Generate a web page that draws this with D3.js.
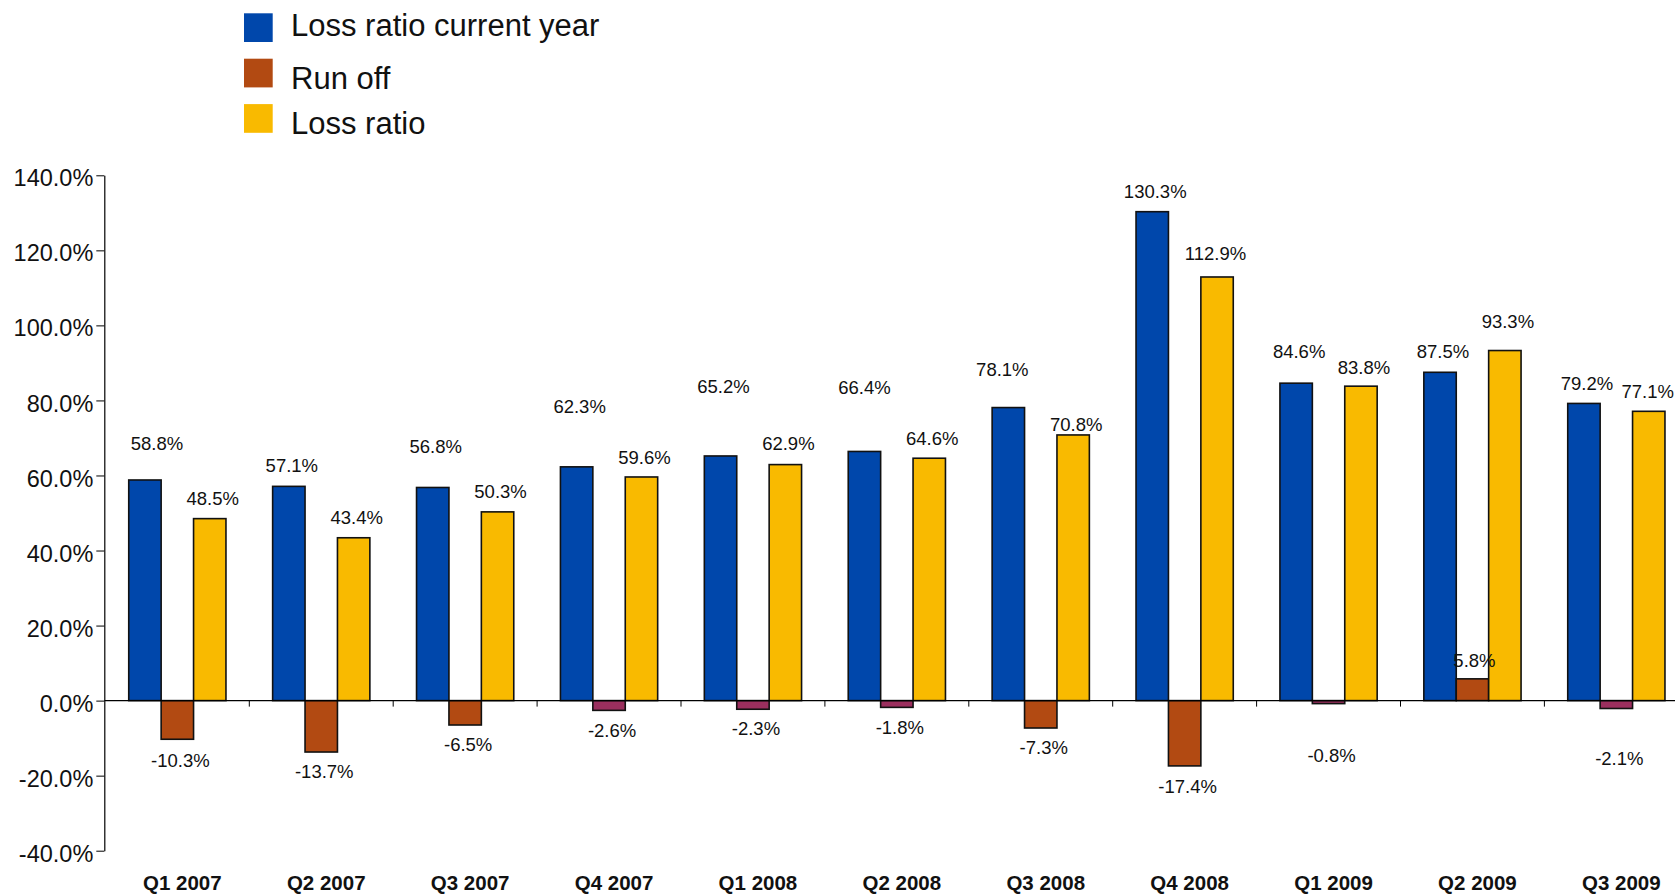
<!DOCTYPE html>
<html>
<head>
<meta charset="utf-8">
<script src="https://cdn.jsdelivr.net/npm/d3@7"></script>
<style>
  html, body { margin: 0; padding: 0; background: #fff; }
  svg { display: block; font-family: "Liberation Sans", Arial, sans-serif; }
</style>
</head>
<body>
<svg id="chart" width="1675" height="894"></svg>
<script>
// ---- data ----
const categories = ["Q1 2007","Q2 2007","Q3 2007","Q4 2007","Q1 2008","Q2 2008","Q3 2008","Q4 2008","Q1 2009","Q2 2009","Q3 2009"];
const lossRatioCurrentYear = [58.8, 57.1, 56.8, 62.3, 65.2, 66.4, 78.1, 130.3, 84.6, 87.5, 79.2];
const runOff = [-10.3, -13.7, -6.5, -2.6, -2.3, -1.8, -7.3, -17.4, -0.8, 5.8, -2.1];
const lossRatio = [48.5, 43.4, 50.3, 59.6, 62.9, 64.6, 70.8, 112.9, 83.8, 93.3, 77.1];
const seriesNames = ["Loss ratio current year", "Run off", "Loss ratio"];
const yTicks = [-40, -20, 0, 20, 40, 60, 80, 100, 120, 140];

// ---- layout / style (not data) ----
const colors = { "Loss ratio current year": "#0047AB", "Run off": "#B24A12", "Loss ratio": "#F9BA00" };
const smallRunOffColor = "#9B2F5E";
// per-label nudges (px) for value-label placement, mimicking the original
const labelNudgeY = {
  "Loss ratio current year": [-17, -1, -21, -41, -50, -44, -18, 0, -12, -1, 0],
  "Run off": [1, -1, -1, 0, -1, 0, -1, 0, 32, 1, 30],
  "Loss ratio": [0, 0, -1, 0, -1, 0, 9, -4, 1, -9, 0]
};
const labelNudgeX = {
  "Loss ratio current year": [9, 0, 0, 0, 0, -3, -9, 0, 0, 0, 0],
  "Run off": [0, 0, 0, 0, 0, 0, 0, 0, 0, -1, 0],
  "Loss ratio": [0, 0, 0, 0, 0, 0, 0, -4.5, 0, 0, -4]
};

const svg = d3.select("#chart");
const seriesData = {
  "Loss ratio current year": lossRatioCurrentYear,
  "Run off": runOff,
  "Loss ratio": lossRatio
};

const x0 = d3.scaleBand().domain(categories).range([105.4, 105.4 + 143.9 * categories.length]).paddingInner(0).paddingOuter(0);
const x1 = d3.scaleBand().domain(seriesNames).range([0, x0.bandwidth()]).paddingInner(0).paddingOuter(0.72);
const y = d3.scaleLinear().domain([-40, 140]).range([850.7, 175.3]);

const rows = [];
categories.forEach((c, i) => {
  seriesNames.forEach(s => rows.push({ c, i, s, v: seriesData[s][i] }));
});

function barColor(d) {
  if (d.s === "Run off" && Math.abs(d.v) < 5) return smallRunOffColor;
  return colors[d.s];
}

// ---- bars ----
svg.append("g").selectAll("rect")
  .data(rows).join("rect")
  .attr("x", d => x0(d.c) + x1(d.s))
  .attr("width", x1.bandwidth())
  .attr("y", d => y(Math.max(0, d.v)))
  .attr("height", d => Math.abs(y(d.v) - y(0)))
  .attr("fill", barColor)
  .attr("stroke", "#111")
  .attr("stroke-width", 1.6);

// ---- x axis line + ticks at band boundaries ----
const xAxisG = svg.append("g");
xAxisG.append("line")
  .attr("x1", 104.5).attr("x2", 1675)
  .attr("y1", y(0)).attr("y2", y(0))
  .attr("stroke", "#000").attr("stroke-width", 1.2);
xAxisG.selectAll("line.tick")
  .data(categories).join("line")
  .attr("class", "tick")
  .attr("x1", c => x0(c) + x0.bandwidth()).attr("x2", c => x0(c) + x0.bandwidth())
  .attr("y1", y(0)).attr("y2", y(0) + 6)
  .attr("stroke", "#000").attr("stroke-width", 1);

// category labels
svg.append("g").selectAll("text")
  .data(categories).join("text")
  .attr("x", c => x0(c) + x0.bandwidth() / 2 + 5)
  .attr("y", 890)
  .attr("text-anchor", "middle")
  .attr("font-weight", "bold")
  .attr("font-size", "20.5px")
  .attr("fill", "#111")
  .text(c => c);

// ---- y axis ----
const yAxis = d3.axisLeft(y)
  .tickValues(yTicks)
  .tickFormat(d => d.toFixed(1) + "%")
  .tickSize(8)
  .tickSizeOuter(0)
  .tickPadding(3);
const yG = svg.append("g").attr("transform", "translate(104.3,0)").call(yAxis);
yG.select(".domain").attr("stroke", "#000").attr("stroke-width", 1.2);
yG.selectAll(".tick line").attr("stroke", "#000");
yG.selectAll(".tick text")
  .attr("font-size", "23.5px")
  .attr("font-family", "'Liberation Sans', Arial, sans-serif")
  .attr("fill", "#111")
  .attr("dy", "0.45em");

// ---- value labels ----
svg.append("g").selectAll("text")
  .data(rows).join("text")
  .attr("x", d => x0(d.c) + x1(d.s) + x1.bandwidth() / 2 + 3 + labelNudgeX[d.s][d.i])
  .attr("y", d => {
    const end = y(d.v);
    const base = d.v >= 0 ? end - 20 : end + 20;
    return base + labelNudgeY[d.s][d.i] + 6.7;
  })
  .attr("text-anchor", "middle")
  .attr("font-size", "18.5px")
  .attr("fill", "#111")
  .text(d => d.v.toFixed(1) + "%");

// ---- legend ----
const legendTextDy = [23, 30, 30];
const leg = svg.append("g").selectAll("g")
  .data(seriesNames).join("g")
  .attr("transform", (s, i) => `translate(244,${13.3 + i * 45.4})`);
leg.append("rect")
  .attr("width", 28.7).attr("height", 28.7)
  .attr("fill", s => colors[s]);
leg.append("text")
  .attr("x", 47)
  .attr("y", (s, i) => legendTextDy[i])
  .attr("font-size", "31px")
  .attr("fill", "#111")
  .text(s => s);
</script>
</body>
</html>
